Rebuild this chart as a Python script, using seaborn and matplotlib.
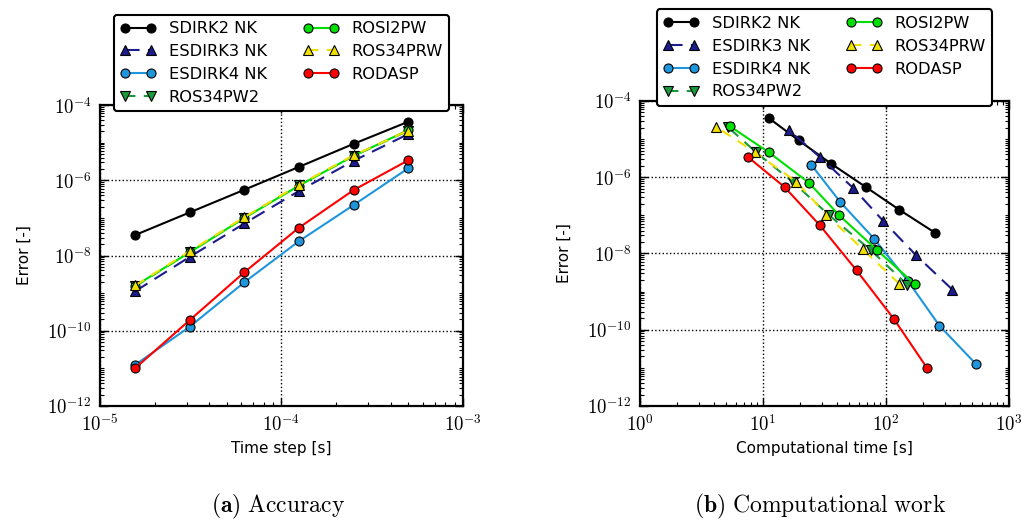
import numpy as np
import pandas as pd
import seaborn as sns
import matplotlib.pyplot as plt
from matplotlib.ticker import LogLocator, FuncFormatter, NullFormatter

# methods (legend order)
methods = ['SDIRK2 NK', 'ESDIRK3 NK', 'ESDIRK4 NK', 'ROS34PW2', 'ROSI2PW', 'ROS34PRW', 'RODASP']

# time steps [s]
dt = [1.5625e-5, 3.125e-5, 6.25e-5, 1.25e-4, 2.5e-4, 5e-4]

# error per method, same order as dt
err_sdirk2 = [3.5e-8, 1.40e-7, 5.6e-7, 2.27e-6, 9.3e-6, 3.6e-5]
err_esdirk3 = [1.12e-9, 9.2e-9, 7.1e-8, 5.2e-7, 3.3e-6, 1.69e-5]
err_esdirk4 = [1.24e-11, 1.28e-10, 1.95e-9, 2.41e-8, 2.2e-7, 2.09e-6]
err_ros34pw2 = [1.52e-9, 1.23e-8, 1.01e-7, 7.4e-7, 4.46e-6, 2.07e-5]
err_rosi2pw = [1.56e-9, 1.22e-8, 1.0e-7, 7.2e-7, 4.46e-6, 2.15e-5]
err_ros34prw = [1.6e-9, 1.3e-8, 1.05e-7, 7.6e-7, 4.6e-6, 2.1e-5]
err_rodasp = [1.01e-11, 1.92e-10, 3.6e-9, 5.5e-8, 5.5e-7, 3.4e-6]

# computational time [s], same order as dt
cpu_sdirk2 = [250.6, 128.5, 68.2, 35.8, 19.5, 11.1]
cpu_esdirk3 = [347.5, 174.5, 95.1, 54.2, 29.3, 16.3]
cpu_esdirk4 = [542.0, 272.0, 150.0, 80.4, 42.7, 24.8]
cpu_ros34pw2 = [149.0, 75.0, 34.5, 17.6, 8.83, 5.19]
cpu_rosi2pw = [172.0, 84.9, 41.7, 23.6, 11.2, 5.42]
cpu_ros34prw = [128.5, 64.6, 32.8, 18.7, 8.55, 4.17]
cpu_rodasp = [215.0, 116.0, 57.7, 29.0, 15.0, 7.55]

errs = [err_sdirk2, err_esdirk3, err_esdirk4, err_ros34pw2, err_rosi2pw, err_ros34prw, err_rodasp]
cpus = [cpu_sdirk2, cpu_esdirk3, cpu_esdirk4, cpu_ros34pw2, cpu_rosi2pw, cpu_ros34prw, cpu_rodasp]

rows = []
for m, e, c in zip(methods, errs, cpus):
    for d, ee, cc in zip(dt, e, c):
        rows.append({'method': m, 'dt': d, 'err': ee, 'cpu': cc})
df = pd.DataFrame(rows)

colors = {'SDIRK2 NK': '#000000', 'ESDIRK3 NK': '#1c1c8c', 'ESDIRK4 NK': '#1e96dc',
          'ROS34PW2': '#1a9a3c', 'ROSI2PW': '#00e000', 'ROS34PRW': '#f0e000',
          'RODASP': '#ff0000'}
markers = {'SDIRK2 NK': 'o', 'ESDIRK3 NK': '^', 'ESDIRK4 NK': 'o', 'ROS34PW2': 'v',
           'ROSI2PW': 'o', 'ROS34PRW': '^', 'RODASP': 'o'}
dashes = {'SDIRK2 NK': '', 'ESDIRK3 NK': (7, 4), 'ESDIRK4 NK': '', 'ROS34PW2': (5, 4),
          'ROSI2PW': '', 'ROS34PRW': (5, 4), 'RODASP': ''}

sns.set_style('ticks', {'xtick.direction': 'in', 'ytick.direction': 'in',
                        'axes.edgecolor': 'black', 'text.color': 'black',
                        'xtick.color': 'black', 'ytick.color': 'black',
                        'axes.labelcolor': 'black'})
plt.rcParams['font.family'] = ['DejaVu Sans']
plt.rcParams['mathtext.fontset'] = 'cm'
plt.rcParams['xtick.top'] = True
plt.rcParams['ytick.right'] = True

fig = plt.figure(figsize=(10.21, 5.23), dpi=100)
ax1 = fig.add_axes([0.0979, 0.2237, 0.3555, 0.5755])
ax2 = fig.add_axes([0.6268, 0.2237, 0.3614, 0.5832])

def dec_fmt(v, p):
    return r'$10^{%d}$' % int(round(np.log10(v)))

for ax, xcol in [(ax1, 'dt'), (ax2, 'cpu')]:
    sns.lineplot(data=df, x=xcol, y='err', hue='method', style='method',
                 hue_order=methods, style_order=methods, palette=colors,
                 markers=markers, dashes=dashes, estimator=None, sort=False,
                 markersize=6.5, markeredgecolor='k', markeredgewidth=0.8,
                 linewidth=1.5, legend=False, ax=ax)
    ax.set_xscale('log')
    ax.set_yscale('log')
    ax.set_ylim(1e-12, 1e-4)
    ax.set_yticks([1e-12, 1e-10, 1e-8, 1e-6, 1e-4])
    ax.yaxis.set_minor_locator(LogLocator(base=10, subs=np.arange(1, 10), numticks=100))
    ax.xaxis.set_minor_locator(LogLocator(base=10, subs=np.arange(2, 10), numticks=100))
    ax.yaxis.set_major_formatter(FuncFormatter(dec_fmt))
    ax.xaxis.set_major_formatter(FuncFormatter(dec_fmt))
    ax.yaxis.set_minor_formatter(NullFormatter())
    ax.xaxis.set_minor_formatter(NullFormatter())
    ax.tick_params(which='major', length=6, width=1, labelsize=13.5, pad=6,
                   top=True, right=True, direction='in')
    ax.tick_params(which='minor', length=3, width=0.8, top=True, right=True, direction='in')
    ax.grid(True, which='major', color='k', linestyle=':', linewidth=1)
    for s in ax.spines.values():
        s.set_linewidth(1.6)
        s.set_color('k')
    ax.set_ylabel('Error [-]', fontsize=11, labelpad=11)
    leg = ax.legend(ax.lines[:7], methods, ncol=2, numpoints=2, loc='upper center',
                    bbox_to_anchor=(0.5, 1.30), borderaxespad=0, fontsize=11.7,
                    fancybox=True, framealpha=1, edgecolor='k', handlelength=2.2,
                    handletextpad=0.8, columnspacing=2.2, labelspacing=0.48,
                    borderpad=0.4)
    leg.get_frame().set_linewidth(1.5)

ax1.set_xlim(1e-5, 1e-3)
ax1.set_xticks([1e-5, 1e-4, 1e-3])
ax1.set_xlabel('Time step [s]', fontsize=11)
ax2.set_xlim(1, 1e3)
ax2.set_xticks([1, 10, 100, 1000])
ax2.set_xlabel('Computational time [s]', fontsize=11)

fig.text(0.272, 0.02, r'$\mathbf{(a)}\ \mathrm{Accuracy}$', ha='center', fontsize=17)
fig.text(0.803, 0.02, r'$\mathbf{(b)}\ \mathrm{Computational\ work}$', ha='center', fontsize=17)

fig.savefig('out.png', dpi=100)
